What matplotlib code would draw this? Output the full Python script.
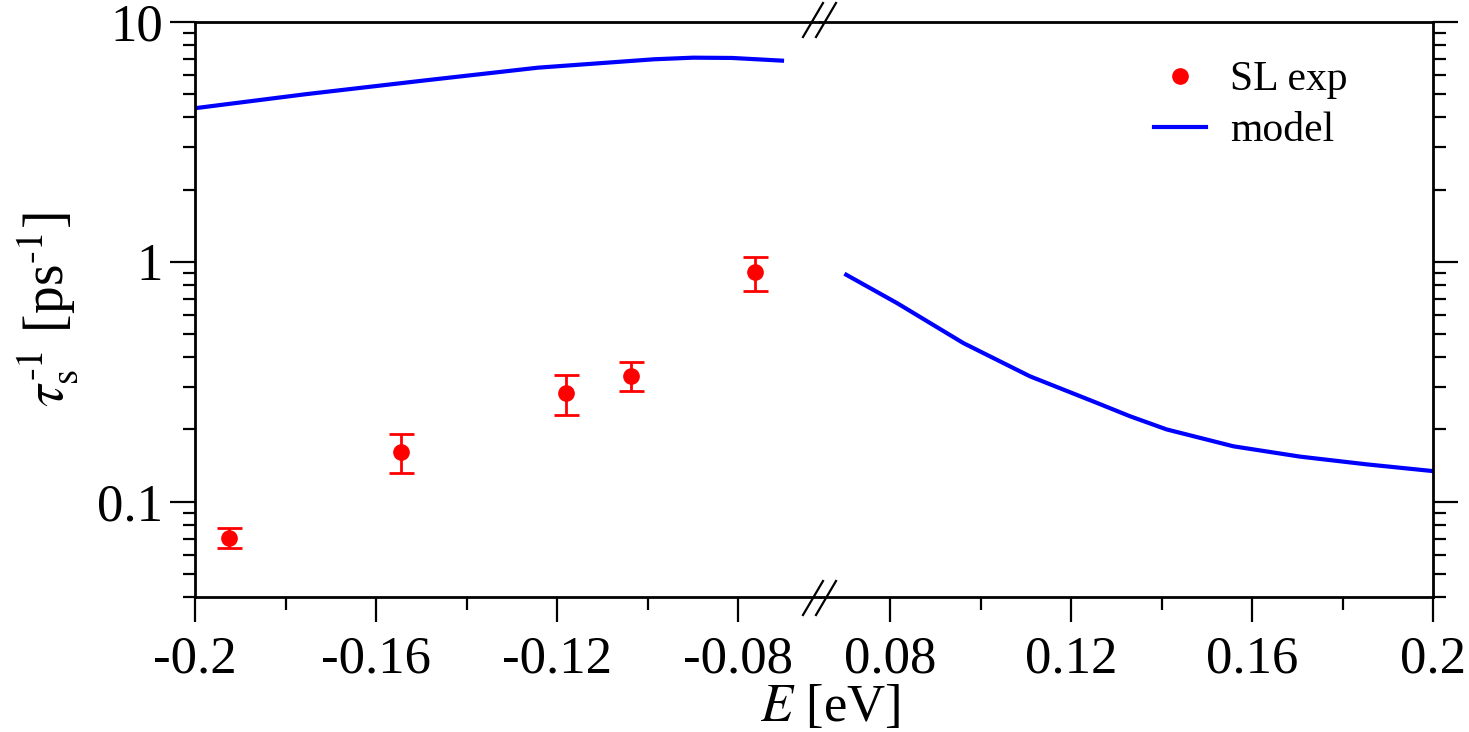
import numpy as np
import matplotlib
matplotlib.use('Agg')
import matplotlib.pyplot as plt
from matplotlib.lines import Line2D
from matplotlib.ticker import LogLocator, NullFormatter

plt.rcParams['font.family'] = 'Liberation Serif'
plt.rcParams['mathtext.fontset'] = 'stix'
plt.rcParams['axes.unicode_minus'] = False

# SL experiment (E in eV, rate in 1/ps), with error bar ends
exp_E = [-0.1925, -0.1545, -0.118, -0.1037, -0.0762]
exp_val = [0.0706, 0.1616, 0.285, 0.335, 0.909]
exp_low = [0.0641, 0.132, 0.230, 0.290, 0.757]
exp_high = [0.0777, 0.192, 0.338, 0.383, 1.049]

# model, negative energy branch
mod_E_neg = [-0.2, -0.1755, -0.1498, -0.1242, -0.0986, -0.0899, -0.0813, -0.0703]
mod_neg = [4.37, 5.0, 5.69, 6.45, 6.99, 7.10, 7.08, 6.90]

# model, positive energy branch
mod_E_pos = [0.0703, 0.0815, 0.0962, 0.1109, 0.1257, 0.1330, 0.1411, 0.1559, 0.1706, 0.1853, 0.2]
mod_pos = [0.883, 0.673, 0.458, 0.333, 0.258, 0.227, 0.200, 0.170, 0.154, 0.143, 0.134]

xticks_neg = [-0.2, -0.16, -0.12, -0.08]
xlabels_neg = ['-0.2', '-0.16', '-0.12', '-0.08']
xminor_neg = [-0.18, -0.14, -0.10]
xticks_pos = [0.08, 0.12, 0.16, 0.2]
xlabels_pos = ['0.08', '0.12', '0.16', '0.2']
xminor_pos = [0.10, 0.14, 0.18]
yticks = [0.1, 1, 10]
ylabels = ['0.1', '1', '10']

W, H = 1469, 732
fig = plt.figure(figsize=(W / 100, H / 100), dpi=100)
L, R, B, T = 195 / W, 1433 / W, 1 - 597 / H, 1 - 22 / H
xb = 820 / W
axl = fig.add_axes([L, B, xb - L, T - B])
axr = fig.add_axes([xb, B, R - xb, T - B])

for ax in (axl, axr):
    ax.set_yscale('log')
    ax.set_ylim(0.04, 10)
    ax.set_yticks(yticks)
    ax.yaxis.set_minor_locator(LogLocator(base=10, subs=np.arange(2, 10)))
    ax.yaxis.set_minor_formatter(NullFormatter())
    for s in ax.spines.values():
        s.set_linewidth(2)
    ax.tick_params(which='major', direction='out', length=18, width=1.6,
                   labelsize=38, pad=10)
    ax.tick_params(which='minor', direction='out', length=9, width=1.6)
    ax.tick_params(axis='y', pad=5)

axl.set_xlim(-0.2, -0.0619)
axr.set_xlim(0.0645, 0.2)
axl.spines['right'].set_visible(False)
axr.spines['left'].set_visible(False)

axl.set_xticks(xticks_neg, xlabels_neg)
axl.set_xticks(xminor_neg, minor=True)
axr.set_xticks(xticks_pos, xlabels_pos)
axr.set_xticks(xminor_pos, minor=True)

axl.set_yticklabels(ylabels)
axl.tick_params(axis='y', which='both', left=True, right=False)
axr.tick_params(axis='y', which='both', left=False, right=True,
                labelleft=False, labelright=False)

# data
lo = np.array(exp_val) - np.array(exp_low)
hi = np.array(exp_high) - np.array(exp_val)
axl.errorbar(exp_E, exp_val, yerr=[lo, hi], fmt='none', ecolor='#ff0000',
             elinewidth=2, capsize=9, capthick=2)
pts, = axl.plot(exp_E, exp_val, 'o', color='#ff0000', ms=11, label='SL exp')
ln, = axl.plot(mod_E_neg, mod_neg, color='#0000ff', lw=3, label='model')
axr.plot(mod_E_pos, mod_pos, color='#0000ff', lw=3)

axl.set_ylabel(r'$\tau_{\rm s}^{\text{-1}}$ [ps$^{\text{-1}}$]', fontsize=40, labelpad=12)
fig.text(830 / W, 1 - 721 / H, r'$E$ [eV]', ha='center', va='baseline', fontsize=38)

axr.legend([pts, ln], ['SL exp', 'model'], loc='upper left', frameon=False,
           bbox_to_anchor=(1133 / W, 1 - 40 / H), bbox_transform=fig.transFigure,
           borderpad=0, fontsize=30, handlelength=1.24, handletextpad=0.6,
           labelspacing=0.3)

# axis break marks
for yc in (20, 598):
    for xc in (813, 826):
        fig.add_artist(Line2D([(xc - 10) / W, (xc + 10) / W],
                              [1 - (yc + 17) / H, 1 - (yc - 17) / H],
                              color='black', lw=1.6))

fig.savefig('out.png', dpi=100)
